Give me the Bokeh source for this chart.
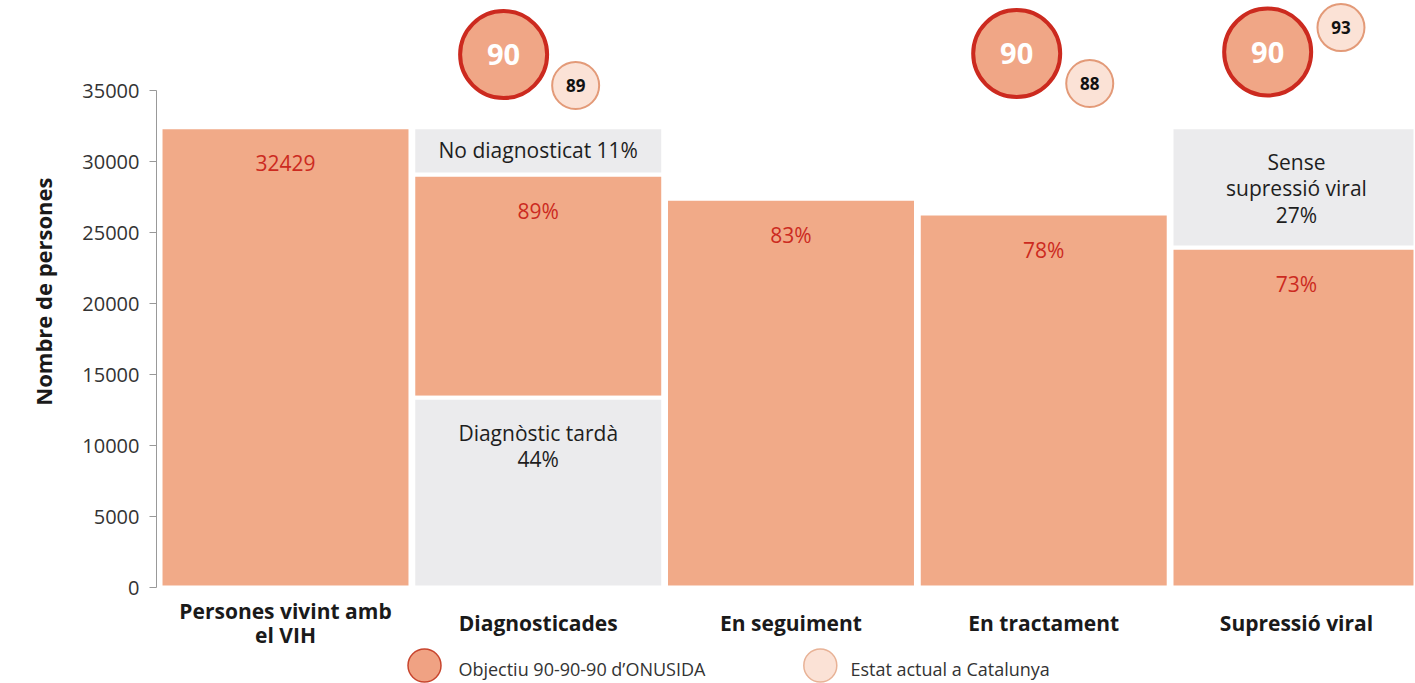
from bokeh.plotting import figure
from bokeh.models import ColumnDataSource, FixedTicker, Range1d, Title
from bokeh.core.properties import value
from bokeh.embed import file_html
from bokeh.resources import INLINE

# ---------------- data ----------------
categories = ["Persones vivint amb\nel VIH", "Diagnosticades", "En seguiment",
              "En tractament", "Supressió viral"]
bar_values = [32429, 29100, 27400, 26350, 23960]
bar_bottoms = [0, 13370, 0, 0, 0]
bar_labels = ["32429", "89%", "83%", "78%", "73%"]

grey_cat = [1, 1, 4]
grey_bottom = [29100, 0, 23960]
grey_top = [32429, 13370, 32429]
grey_labels = ["No diagnosticat 11%", "Diagnòstic tardà\n44%", "Sense\nsupressió viral\n27%"]

circle_cat = [1, 3, 4]
target_values = [90, 90, 90]
current_values = [89, 88, 93]

legend_labels = ["Objectiu 90-90-90 d\u2019ONUSIDA", "Estat actual a Catalunya"]
y_ticks = [0, 5000, 10000, 15000, 20000, 25000, 30000, 35000]
y_title = "Nombre de persones"

# ---------------- layout / style constants ----------------
ORANGE = "#F1AA88"
GREY = "#EBEBED"
RED = "#CC2A1F"
FONT = "Open Sans"

grey_label_offsets = [23, 48, 61]          # px below the segment top
big_dx = [-0.137, -0.107, -0.114]
big_y = [37560, 37630, 37740]
small_dx = [0.148, 0.182, 0.176]
small_y = [35380, 35520, 39460]
legend_marker_x = [0.55, 2.116]
legend_text_x = [0.684, 2.235]
legend_marker_y = -5497
legend_text_y = -5708

xs = list(range(len(categories)))

p = figure(frame_width=1259, frame_height=683,
           x_range=Range1d(-0.5104, 4.4709), y_range=Range1d(-6765, 41370),
           min_border_left=156, min_border_right=0, min_border_top=0, min_border_bottom=0,
           x_axis_location=None,
           output_backend="svg", toolbar_location=None)
p.outline_line_color = None
p.grid.visible = False
p.background_fill_color = "white"

# orange bars
src = ColumnDataSource(dict(x=xs, top=bar_values, bottom=bar_bottoms, label=bar_labels))
p.vbar(x="x", top="top", bottom="bottom", width=0.989, source=src,
       fill_color=ORANGE, line_color="white", line_width=4)
p.text(x="x", y="top", text="label", source=src, y_offset=36,
       text_align="center", text_baseline="middle", text_color=RED,
       text_font=value(FONT), text_font_size="21px")

# grey segments
gsrc = ColumnDataSource(dict(x=grey_cat, top=grey_top, bottom=grey_bottom,
                             label=grey_labels, off=grey_label_offsets))
p.vbar(x="x", top="top", bottom="bottom", width=0.989, source=gsrc,
       fill_color=GREY, line_color="white", line_width=4)
p.text(x="x", y="top", text="label", source=gsrc, y_offset="off",
       text_align="center", text_baseline="middle", text_color="#1e1e1e",
       text_font=value(FONT), text_font_size="21px", text_line_height=0.94)

# target / current circles
bsrc = ColumnDataSource(dict(x=[c + d for c, d in zip(circle_cat, big_dx)], y=big_y,
                             t=[str(v) for v in target_values]))
ssrc = ColumnDataSource(dict(x=[c + d for c, d in zip(circle_cat, small_dx)], y=small_y,
                             t=[str(v) for v in current_values]))
p.scatter(x="x", y="y", source=bsrc, size=87, fill_color="#F0A686",
          line_color=RED, line_width=4)
p.text(x="x", y="y", text="t", source=bsrc, text_align="center", text_baseline="middle",
       text_color="white", text_font=value(FONT), text_font_style="bold", text_font_size="29px")
p.scatter(x="x", y="y", source=ssrc, size=47, fill_color="#FBE2D6",
          line_color="#E39A78", line_width=2)
p.text(x="x", y="y", text="t", source=ssrc, text_align="center", text_baseline="middle",
       text_color="#111111", text_font=value(FONT), text_font_style="bold", text_font_size="17px")

# category labels (below the baseline, on the chart's x scale)
csrc = ColumnDataSource(dict(x=xs, y=[0] * len(xs), label=categories))
p.text(x="x", y="y", text="label", source=csrc, y_offset=35.5,
       text_align="center", text_baseline="middle",
       text_color="#1a1a1a", text_font=value(FONT), text_font_style="bold",
       text_font_size="21px", text_line_height=0.86)

# legend row
lsrc = ColumnDataSource(dict(x=legend_marker_x, y=[legend_marker_y] * 2,
                             fill=["#F0A283", "#FBE2D6"], line=["#C8452E", "#E8B296"],
                             tx=legend_text_x, ty=[legend_text_y] * 2, label=legend_labels))
p.scatter(x="x", y="y", source=lsrc, size=33,
          fill_color="fill", line_color="line", line_width=1.5)
p.text(x="tx", y="ty", text="label", source=lsrc,
       text_align="left", text_baseline="middle",
       text_color="#333333", text_font=value(FONT), text_font_size="18px")

# y axis
yax = p.yaxis[0]
yax.ticker = FixedTicker(ticks=y_ticks)
yax.bounds = (0, 35000)
yax.axis_line_color = "#999999"
yax.major_tick_line_color = "#999999"
yax.major_tick_out = 7
yax.major_tick_in = 0
yax.minor_tick_line_color = None
yax.major_label_standoff = 10
yax.major_label_text_font = FONT
yax.major_label_text_font_size = "20px"
yax.major_label_text_color = "#333333"

# y title beside the 0-35000 part of the axis, as in the original
p.add_layout(Title(text=y_title, align="right", offset=177, standoff=44,
                   text_font=FONT, text_font_size="22px", text_font_style="bold",
                   text_color="#1a1a1a"), "left")

open("out.html", "w").write(file_html(p, INLINE))
